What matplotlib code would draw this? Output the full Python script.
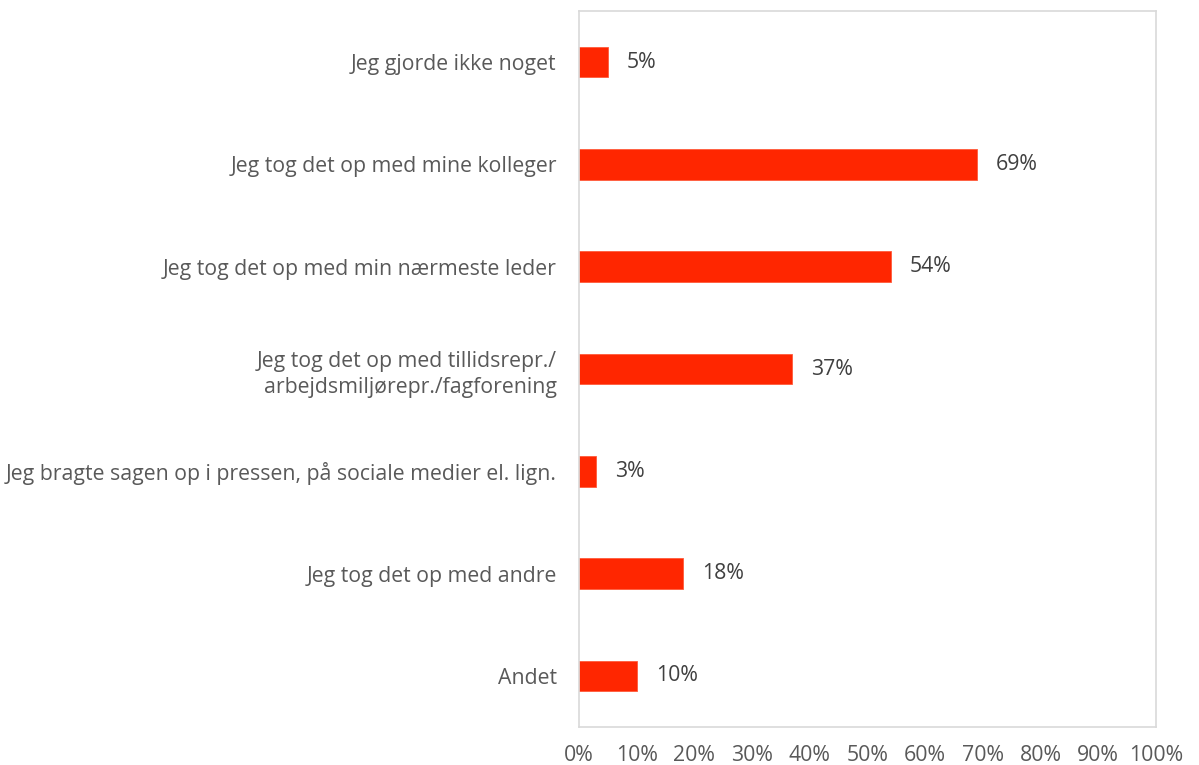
import matplotlib
matplotlib.use("Agg")
import matplotlib.pyplot as plt
from matplotlib.ticker import FuncFormatter

categories = [
    "Jeg gjorde ikke noget",
    "Jeg tog det op med mine kolleger",
    "Jeg tog det op med min nærmeste leder",
    "Jeg tog det op med tillidsrepr./\narbejdsmiljørepr./fagforening",
    "Jeg bragte sagen op i pressen, på sociale medier el. lign.",
    "Jeg tog det op med andre",
    "Andet",
]
values = [5, 69, 54, 37, 3, 18, 10]
xticks = [0, 10, 20, 30, 40, 50, 60, 70, 80, 90, 100]

plt.rcParams['font.family'] = ['Open Sans', 'DejaVu Sans']
grey = '#595959'
fs = 15.3

fig = plt.figure(figsize=(11.99, 7.65), dpi=100)
ax = fig.add_axes([579/1199, 1 - 727/765, (1156-579)/1199, (727-11)/765])

y = list(range(len(categories)))
ax.barh(y, values, height=0.3, color='#FF2600', edgecolor='#FF5a3a', linewidth=0.6)
for yi, v in zip(y, values):
    ax.text(v + 3.3, yi, f"{v}%", va='center', ha='left', fontsize=fs, color='#404040')

ax.set_ylim(len(categories) - 0.5, -0.5)
ax.set_xlim(0, 100)
ax.set_yticks(y)
ax.set_yticklabels(categories, fontsize=fs, color=grey, linespacing=1.35)
ax.set_xticks(xticks)
ax.xaxis.set_major_formatter(FuncFormatter(lambda v, p: f"{int(v)}%"))
ax.tick_params(axis='x', labelsize=fs, labelcolor=grey, length=0, pad=13)
ax.tick_params(axis='y', length=0, pad=16)
for s in ax.spines.values():
    s.set_color('#d9d9d9')
    s.set_linewidth(1.2)

fig.savefig("out.png", dpi=100, facecolor='white')
